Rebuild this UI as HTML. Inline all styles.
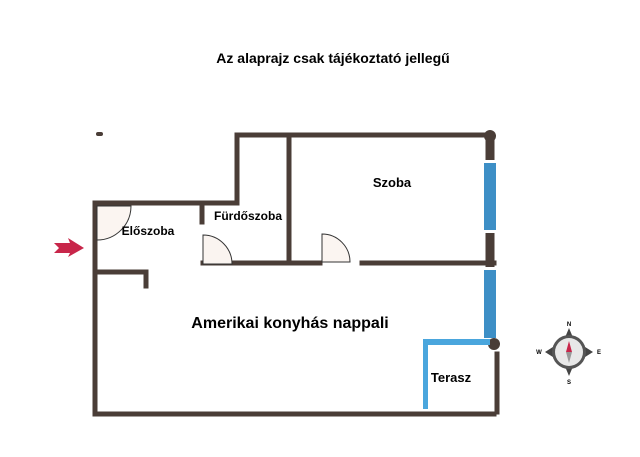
<!DOCTYPE html>
<html><head><meta charset="utf-8"><style>
body{margin:0;background:#fff;width:640px;height:457px;overflow:hidden}
svg{display:block}
text{font-family:"Liberation Sans",sans-serif;font-weight:bold;fill:#000}
</style></head><body>
<svg width="640" height="457" viewBox="0 0 640 457">
<text x="333" y="63" font-size="14" text-anchor="middle">Az alaprajz csak tájékoztató jellegű</text>
<g stroke="#4a3d37" stroke-width="5" fill="none" stroke-linecap="square">
<line x1="98" y1="134" x2="101" y2="134" stroke-linecap="round" stroke-width="4"/>
<line x1="237" y1="135" x2="488" y2="135"/>
<line x1="237" y1="135" x2="237" y2="203"/>
<line x1="95" y1="203" x2="237" y2="203"/>
<line x1="95" y1="203" x2="95" y2="414"/>
<line x1="95" y1="414" x2="494" y2="414"/>
<line x1="289" y1="135" x2="289" y2="262"/>
<line x1="202" y1="203" x2="202" y2="222"/>
<line x1="203" y1="263" x2="320" y2="263"/>
<line x1="362" y1="263" x2="494" y2="263"/>
<line x1="97" y1="272" x2="146" y2="272"/>
<line x1="146" y1="272" x2="146" y2="286"/>
<line x1="490" y1="137" x2="490" y2="160" stroke-width="9" stroke-linecap="butt"/>
<line x1="490" y1="233" x2="490" y2="267" stroke-width="9" stroke-linecap="butt"/>
<line x1="497" y1="354" x2="497" y2="412"/>
</g>
<circle cx="490" cy="136" r="6" fill="#4a3d37"/>
<circle cx="494" cy="344" r="6" fill="#4a3d37"/>
<rect x="484" y="163" width="12" height="67" fill="#3d8fc6"/>
<rect x="484" y="270" width="12" height="68" fill="#3d8fc6"/>
<rect x="423" y="339" width="67" height="6" fill="#4aa6dd"/>
<rect x="423" y="342" width="5" height="67" fill="#4aa6dd"/>
<g fill="#fbf5f1" stroke="#333" stroke-width="1">
<path d="M97 206 L131 206 A34 34 0 0 1 97 240 Z"/>
<path d="M203 264 L203 235 A29 29 0 0 1 232 264 Z" fill="#faf4f0"/>
<path d="M322 262 L322 234 A28 28 0 0 1 350 262 Z"/>
</g>
<path d="M54 243 L70 243 L68 238 L84 248 L68 257 L70 253 L54 253 L59 248Z" fill="#c8264a"/>
<text x="392" y="187" font-size="13" text-anchor="middle">Szoba</text>
<text x="148" y="235" font-size="12" text-anchor="middle">Előszoba</text>
<text x="248" y="220" font-size="12" text-anchor="middle">Fürdőszoba</text>
<text x="290" y="328" font-size="16" text-anchor="middle">Amerikai konyhás nappali</text>
<text x="451" y="382" font-size="13" text-anchor="middle">Terasz</text>
<g transform="translate(569,352)">
<path d="M0 -24 L5 -12 L24 0 L5 12 L0 24 L-5 12 L-24 0 L-5 -12Z" fill="#444"/>
<circle r="17" fill="#555"/>
<circle r="14" fill="#e8e8e8"/>
<path d="M0 -11 L3 0 L-3 0Z" fill="#c8264a"/>
<path d="M0 11 L3 0 L-3 0Z" fill="#999"/>
<text y="-26" font-size="6" text-anchor="middle" fill="#666">N</text>
<text y="32" font-size="6" text-anchor="middle" fill="#666">S</text>
<text x="-30" y="2" font-size="6" text-anchor="middle" fill="#666">W</text>
<text x="30" y="2" font-size="6" text-anchor="middle" fill="#666">E</text>
</g>
</svg>
</body></html>
